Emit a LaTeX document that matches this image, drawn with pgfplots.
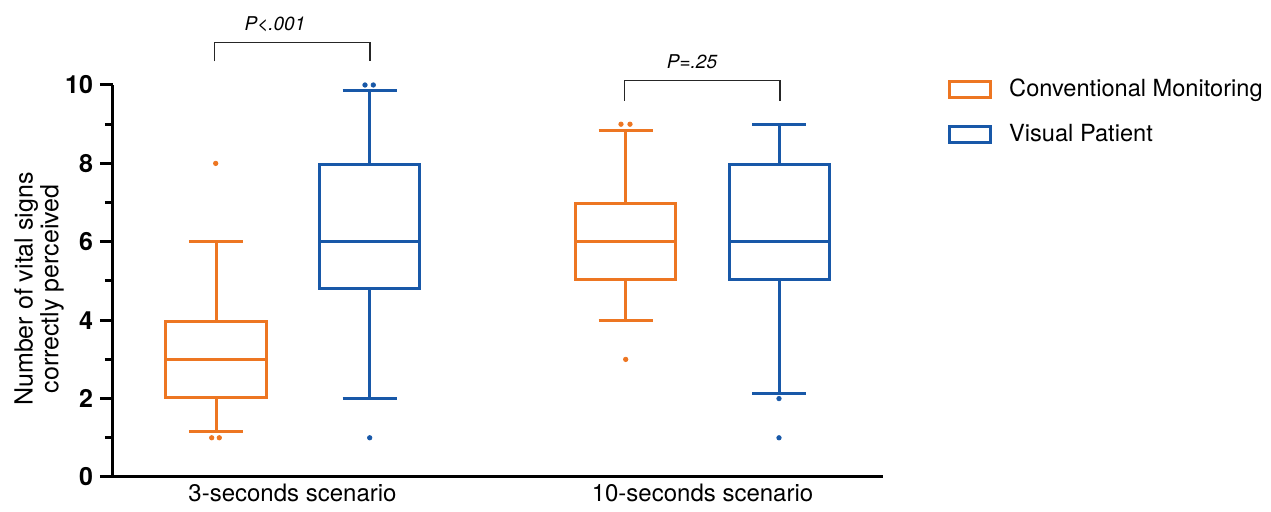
\documentclass[border=0pt]{standalone}
\usepackage{fontspec}
\setmainfont{TeX Gyre Heros}
\usepackage{pgfplots}
\pgfplotsset{compat=1.18}
\usepgfplotslibrary{statistics}
\definecolor{cmorange}{RGB}{237,118,34}
\definecolor{vpblue}{RGB}{24,88,168}
\begin{document}
\begin{tikzpicture}
\path[use as bounding box] (0pt,0pt) rectangle (635.5pt,256pt);
\begin{axis}[
  at={(56.5pt,17.5pt)}, anchor=south west,
  scale only axis, width=385pt, height=196pt,
  xmin=113, xmax=883, ymin=0, ymax=10,
  axis x line*=bottom, axis y line*=left,
  axis line style={line width=1.5pt, -},
  xtick=\empty,
  extra x ticks={292.5,702.5},
  extra x tick labels={3-seconds scenario, 10-seconds scenario},
  extra x tick style={major tick length=0pt, tick style={draw=none}},
  ytick={0,2,...,10}, minor ytick={1,3,...,9},
  tick align=outside, major tick length=6.5pt, minor tick length=4pt,
  every tick/.style={black, line width=1.5pt},
  /pgf/number format/assume math mode=true,
  yticklabel style={font=\fontsize{12.5}{12}\selectfont\bfseries},
  xticklabel style={font=\fontsize{12}{12}\selectfont},
  clip=false,
  boxplot/draw direction=y,
  legend image code/.code={\draw[#1, line width=1.5pt] (0pt,-4pt) rectangle (20.5pt,4pt); \path (29.5pt,0pt);},
  legend style={draw=none, fill=none, at={(axis description cs:1.0765,1.027)}, anchor=north west,
    font=\fontsize{11.8}{14}\selectfont, row sep=12.5pt, nodes={inner sep=0pt}},
  legend cell align=left,
]
% 3-seconds scenario
\addplot[cmorange, line width=1.5pt, forget plot, boxplot prepared={draw position=216, lower whisker=1.15, lower quartile=2.04, median=3, upper quartile=3.97, upper whisker=6, box extend=100, whisker extend=54}] coordinates {};
\addplot[vpblue, line width=1.5pt, forget plot, boxplot prepared={draw position=369.5, lower whisker=2, lower quartile=4.8, median=6, upper quartile=7.97, upper whisker=9.86, box extend=100, whisker extend=54}] coordinates {};
% 10-seconds scenario
\addplot[cmorange, line width=1.5pt, forget plot, boxplot prepared={draw position=625.5, lower whisker=4, lower quartile=5.05, median=6, upper quartile=6.97, upper whisker=8.85, box extend=100, whisker extend=54}] coordinates {};
\addplot[vpblue, line width=1.5pt, forget plot, boxplot prepared={draw position=779, lower whisker=2.13, lower quartile=5.05, median=6, upper quartile=7.97, upper whisker=9, box extend=100, whisker extend=54}] coordinates {};
% outliers
\addplot[only marks, mark=*, mark size=1.1pt, cmorange, forget plot] coordinates {(211.7,1)(219.3,1)(215.7,8)(621,9)(630,9)(625.7,3)};
\addplot[only marks, mark=*, mark size=1.1pt, vpblue, forget plot] coordinates {(365,10)(373.3,10)(369.7,1)(779,2)(779,1)};
% significance brackets
\draw[line width=0.6pt, black!85] (axis cs:214.5,10.6) -- (axis cs:214.5,11.09) -- (axis cs:370,11.09) -- (axis cs:370,10.6);
\node[font=\fontsize{9.5}{10}\selectfont\itshape] at (axis cs:275,11.55) {P<.001};
\draw[line width=0.6pt, black!85] (axis cs:624.5,9.6) -- (axis cs:624.5,10.11) -- (axis cs:780,10.11) -- (axis cs:780,9.6);
\node[font=\fontsize{9.5}{10}\selectfont\itshape] at (axis cs:692,10.59) {P=.25};
\addlegendimage{cmorange}
\addlegendentry{Conventional Monitoring}
\addlegendimage{vpblue}
\addlegendentry{Visual Patient}
\end{axis}
\node[rotate=90, align=center, font=\fontsize{12.5}{10.5}\selectfont] at (19.5pt,111.5pt) {Number of vital signs\\correctly perceived};
\end{tikzpicture}
\end{document}
